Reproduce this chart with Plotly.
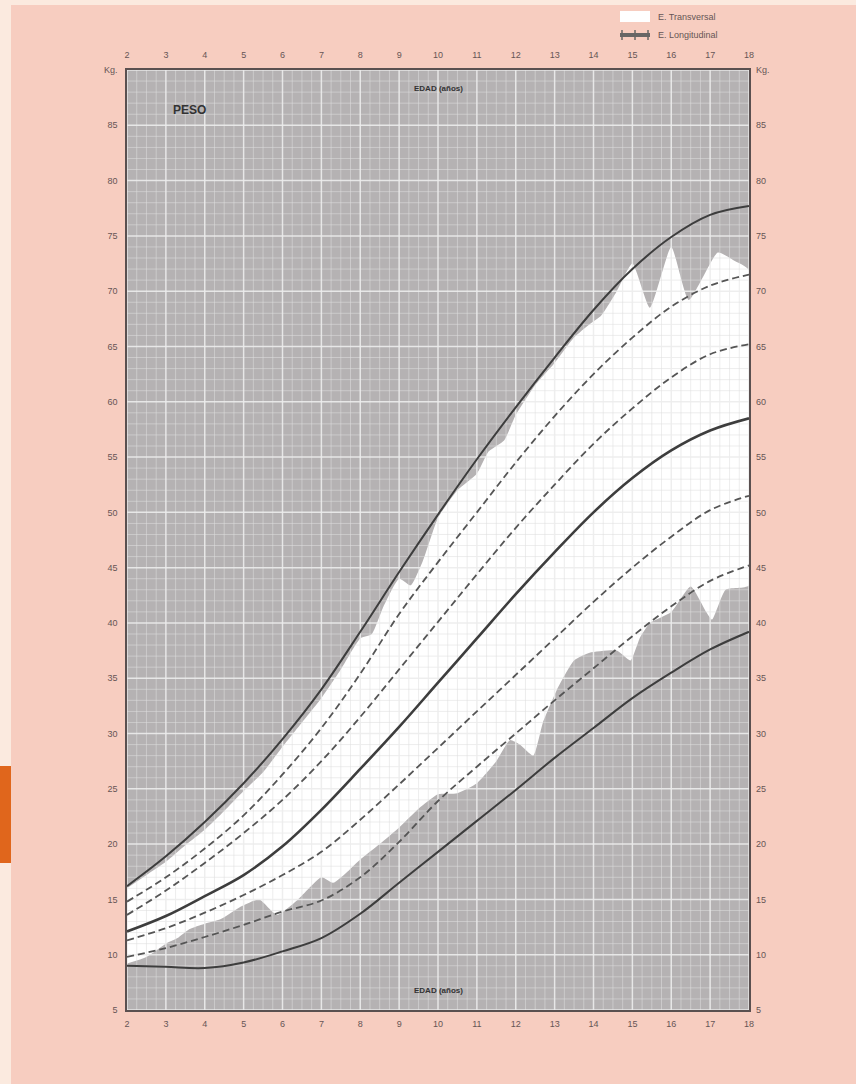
import plotly.graph_objects as go

# ---------------- data ----------------
ages = list(range(2, 19))
age_ticks = list(range(2, 19))
kg_ticks = list(range(5, 91, 5))
kg_ticktext = [str(v) for v in range(5, 90, 5)] + ["Kg."]

p97 = [16.2, 18.9, 22.0, 25.5, 29.5, 34.0, 39.2, 44.6, 49.8, 54.8, 59.5, 64.0, 68.3, 72.0, 74.9, 76.9, 77.7]
p90 = [14.8, 17.0, 19.6, 22.6, 26.3, 30.5, 35.4, 40.8, 45.5, 50.0, 54.5, 58.7, 62.5, 65.8, 68.6, 70.5, 71.5]
p75 = [13.6, 15.8, 18.3, 21.0, 24.0, 27.5, 31.5, 35.8, 40.1, 44.4, 48.6, 52.5, 56.2, 59.4, 62.2, 64.3, 65.2]
p50 = [12.1, 13.5, 15.3, 17.2, 19.8, 23.1, 26.8, 30.6, 34.6, 38.6, 42.6, 46.4, 50.0, 53.1, 55.6, 57.4, 58.5]
p25 = [11.3, 12.4, 13.8, 15.4, 17.2, 19.3, 22.2, 25.4, 28.7, 32.0, 35.3, 38.6, 41.9, 45.0, 47.8, 50.2, 51.5]
p10 = [9.8, 10.6, 11.6, 12.7, 13.9, 14.9, 17.0, 20.2, 23.9, 27.0, 30.0, 33.0, 35.9, 38.8, 41.5, 43.8, 45.2]
p3 = [9.0, 8.9, 8.8, 9.3, 10.3, 11.5, 13.7, 16.5, 19.3, 22.1, 24.9, 27.8, 30.5, 33.2, 35.5, 37.6, 39.2]

# E. Transversal (white band) boundaries
trans_upper_age = [2, 2.5, 3, 3.5, 4, 4.5, 5, 5.5, 6, 6.5, 7, 7.5, 8, 8.3, 8.6, 9, 9.3, 9.6, 10, 10.5,
                   11, 11.3, 11.7, 12, 12.5, 13, 13.5, 13.9, 14.2, 14.6, 15, 15.45, 16, 16.45, 17.2, 17.6, 18]
trans_upper_kg = [16.0, 17.2, 18.4, 19.9, 21.3, 23.0, 24.8, 26.5, 28.8, 31.0, 33.2, 35.8, 38.6, 39.0, 41.5, 44.0, 43.4, 45.5, 49.5, 52.0,
                  53.5, 55.5, 56.5, 58.8, 61.5, 63.5, 65.8, 67.0, 67.8, 70.0, 72.5, 68.5, 74.0, 69.2, 73.5, 72.8, 71.9]
trans_lower_age = [2, 2.5, 3, 3.3, 3.6, 4, 4.4, 4.9, 5.4, 5.86, 6.4, 7.0, 7.3, 7.7, 8, 8.5, 9, 9.5, 10, 10.5,
                   11, 11.5, 11.85, 12.1, 12.45, 12.7, 13.05, 13.5, 13.9, 14.6, 14.95, 15.2, 15.45, 16, 16.5, 16.9, 17.05, 17.4, 18]
trans_lower_kg = [9.2, 9.8, 11.0, 11.5, 12.3, 12.8, 13.2, 14.3, 15.0, 13.6, 15.0, 17.0, 16.5, 17.6, 18.6, 20.0, 21.5, 23.2, 24.5, 24.6,
                  25.5, 27.5, 29.4, 29.0, 28.0, 31.0, 33.9, 36.6, 37.3, 37.5, 36.6, 38.7, 40.0, 41.0, 43.3, 41.0, 40.3, 43.0, 43.4]

legend_labels = ["E. Transversal", "E. Longitudinal"]

# ---------------- styles ----------------
PAPER = "#F7CDC0"
CREAM = "#FBEADF"
ORANGE = "#E0661C"
PLOTBG = "#B5B2B3"
TXT = "#665555"
CURVE = "#3d3d3d"
DASHC = "#555555"
FONT = "Liberation Sans, Arial, sans-serif"

X0, X1 = 2, 18
Y0, Y1 = 5, 90

fig = go.Figure()

# white transversal band
band_x = trans_upper_age + trans_lower_age[::-1]
band_y = trans_upper_kg + trans_lower_kg[::-1]
fig.add_trace(go.Scatter(x=band_x, y=band_y, mode="lines", fill="toself", fillcolor="white",
                         line=dict(width=0, color="white", shape="spline", smoothing=0.5),
                         name=legend_labels[0], showlegend=False, hoverinfo="skip"))

# grid drawn above band (millimetre paper look)
minor_x, minor_y, major_x, major_y = [], [], [], []
i = 0
while X0 + i * 0.25 <= X1 + 1e-9:
    xv = X0 + i * 0.25
    if i % 4 == 0:
        major_x += [xv, xv, None]; major_y += [Y0, Y1, None]
    else:
        minor_x += [xv, xv, None]; minor_y += [Y0, Y1, None]
    i += 1
for yv in range(Y0, Y1 + 1):
    if yv % 5 == 0:
        major_x += [X0, X1, None]; major_y += [yv, yv, None]
    else:
        minor_x += [X0, X1, None]; minor_y += [yv, yv, None]
fig.add_trace(go.Scatter(x=minor_x, y=minor_y, mode="lines", line=dict(color="rgba(222,222,222,0.55)", width=1),
                         showlegend=False, hoverinfo="skip"))
fig.add_trace(go.Scatter(x=major_x, y=major_y, mode="lines", line=dict(color="rgba(236,236,236,0.9)", width=1.5),
                         showlegend=False, hoverinfo="skip"))

# percentile curves
curves = [
    (p3, "solid", 2.0, CURVE),
    (p10, "7px,4px", 1.8, DASHC),
    (p25, "7px,4px", 1.8, DASHC),
    (p50, "solid", 2.6, CURVE),
    (p75, "7px,4px", 1.8, DASHC),
    (p90, "7px,4px", 1.8, DASHC),
    (p97, "solid", 2.0, CURVE),
]
for vals, dash, w, col in curves:
    fig.add_trace(go.Scatter(x=ages, y=vals, mode="lines", line=dict(color=col, width=w, dash=dash, shape="spline"),
                             showlegend=False, hoverinfo="skip"))

# dummy for secondary axes
fig.add_trace(go.Scatter(x=[X0], y=[Y0], xaxis="x2", yaxis="y2", mode="markers", marker=dict(opacity=0),
                         showlegend=False, hoverinfo="skip"))

axis_common = dict(showgrid=False, zeroline=False, ticks="", tickfont=dict(family=FONT, size=9, color=TXT))
fig.update_layout(
    width=856, height=1084,
    margin=dict(l=127, r=107, t=70, b=74),
    paper_bgcolor=PAPER, plot_bgcolor=PLOTBG,
    font=dict(family=FONT, color=TXT),
    xaxis=dict(range=[X0, X1], tickvals=age_ticks, showline=True, linecolor="#5a5050", linewidth=1.5, mirror=True,
               ticklabelstandoff=4, **axis_common),
    yaxis=dict(range=[Y0, Y1], tickvals=kg_ticks, ticktext=kg_ticktext, showline=True, linecolor="#5a5050",
               linewidth=1.5, mirror=True, ticklabelstandoff=6, **axis_common),
    xaxis2=dict(range=[X0, X1], tickvals=age_ticks, overlaying="x", side="top", anchor="y", showline=False,
                ticklabelstandoff=9, **axis_common),
    yaxis2=dict(range=[Y0, Y1], tickvals=kg_ticks, ticktext=kg_ticktext, overlaying="y", side="right", anchor="x",
                showline=False, ticklabelstandoff=6, **axis_common),
    showlegend=False,
)

fig.add_annotation(x=3.62, y=86.4, text="<b>PESO</b>", showarrow=False, font=dict(family=FONT, size=12, color="#333333"))
fig.add_annotation(x=10, y=88.3, text="<b>EDAD (años)</b>", showarrow=False, font=dict(family=FONT, size=8, color="#333333"))
fig.add_annotation(x=10, y=6.8, text="<b>EDAD (años)</b>", showarrow=False, font=dict(family=FONT, size=8, color="#333333"))


# page decoration (paper coordinates)
def px_x(p):
    return (p - 127) / 622.0


def px_y(p):
    return (1010 - p) / 940.0


fig.add_shape(type="rect", xref="paper", yref="paper", x0=px_x(-5), x1=px_x(861), y0=px_y(5), y1=px_y(-5),
              fillcolor=CREAM, line=dict(width=0), layer="below")
fig.add_shape(type="rect", xref="paper", yref="paper", x0=px_x(-5), x1=px_x(11), y0=px_y(1090), y1=px_y(-5),
              fillcolor=CREAM, line=dict(width=0), layer="below")
fig.add_shape(type="rect", xref="paper", yref="paper", x0=px_x(-5), x1=px_x(11), y0=px_y(863), y1=px_y(766),
              fillcolor=ORANGE, line=dict(width=0), layer="below")

# manual legend
fig.add_shape(type="rect", xref="paper", yref="paper", x0=px_x(620), x1=px_x(650), y0=px_y(22), y1=px_y(11),
              fillcolor="white", line=dict(width=0))
fig.add_shape(type="line", xref="paper", yref="paper", x0=px_x(620), x1=px_x(650), y0=px_y(35), y1=px_y(35),
              line=dict(color="#666666", width=4))
for tx in (622, 635, 648):
    fig.add_shape(type="line", xref="paper", yref="paper", x0=px_x(tx), x1=px_x(tx), y0=px_y(40), y1=px_y(30),
                  line=dict(color="#666666", width=1.5))
fig.add_annotation(xref="paper", yref="paper", x=px_x(656), y=px_y(17), xanchor="left", yanchor="middle",
                   text=legend_labels[0], showarrow=False, font=dict(family=FONT, size=9, color=TXT))
fig.add_annotation(xref="paper", yref="paper", x=px_x(656), y=px_y(35), xanchor="left", yanchor="middle",
                   text=legend_labels[1], showarrow=False, font=dict(family=FONT, size=9, color=TXT))

fig.write_html("out.html", config={"displayModeBar": False},
               post_script="document.body.style.margin='0';document.body.style.padding='0';")
